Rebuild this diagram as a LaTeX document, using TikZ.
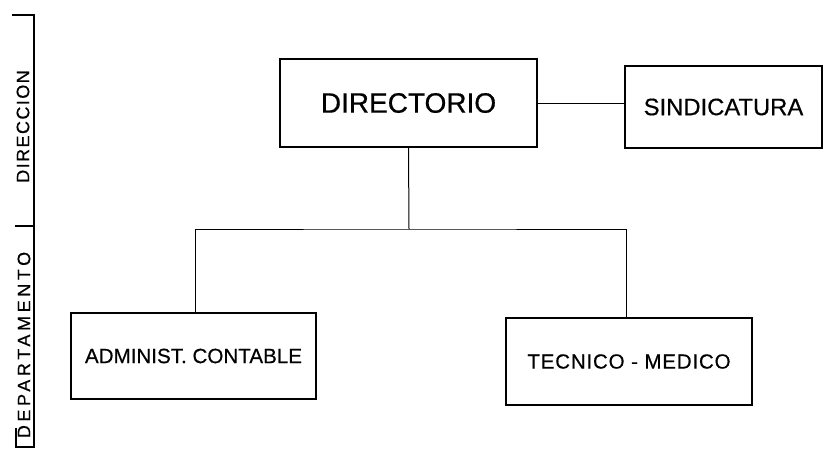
\documentclass[tikz,border=0pt]{standalone}
\usepackage{fontspec}
\setmainfont{Liberation Sans}
\begin{document}
\begin{tikzpicture}[x=1pt,y=-1pt,
  box/.style={draw,line width=1.5pt,inner sep=0pt,align=center},
  conn/.style={draw,line width=1pt},
  scale line/.style={draw,line width=1.2pt}]
\useasboundingbox (0,0) rectangle (824,450);
% boxes
\node[box,line width=2.2pt,minimum width=257pt,minimum height=88pt,font=\fontsize{28}{30}\selectfont\addfontfeature{FakeBold=0.6}] (dir) at (408.5,103) {DIRECTORIO};
\node[box,minimum width=197pt,minimum height=82pt,font=\fontsize{23.8}{26}\selectfont\addfontfeature{FakeBold=0.5}] (sin) at (723.5,107) {SINDICATURA};
\node[box,minimum width=245pt,minimum height=86pt,font=\fontsize{20.6}{22}\selectfont\addfontfeature{FakeBold=0.5}] (adm) at (193.5,356) {ADMINIST. CONTABLE};
\node[box,minimum width=246pt,minimum height=87pt,font=\fontsize{20.5}{22}\selectfont\addfontfeature{FakeBold=0.5}] (tec) at (629,361.5) {\addfontfeature{LetterSpace=4}TECNICO - MEDICO};
% connectors
\coordinate (bus) at (409,229);
\draw[conn] (dir.east) -- (dir.east -| sin.west);
\draw[conn] (dir.south) -- (bus);
\draw[conn] ([xshift=1.5pt]adm.north) |- (bus) -| ([xshift=-3pt]tec.north);
% left scale
\coordinate (s0) at (34,15);
\coordinate (s1) at (34,447);
\coordinate (t0) at (12,15);
\coordinate (tm) at (15,226);
\coordinate (sm) at (34,226);
\coordinate (b0) at (16,428);
\coordinate (b1) at (16,447);
\draw[scale line] (t0) -- (s0) -- (s1) -- (b1) -- (b0);
\draw[scale line] (tm) -- (sm);
\node[rotate=90,inner sep=0pt,font=\fontsize{18}{19}\selectfont\addfontfeature{FakeBold=0.4}] (lbl1) at (23,126.5) {\addfontfeature{LetterSpace=8}DIRECCION};
\node[rotate=90,inner sep=0pt,font=\fontsize{18}{19}\selectfont\addfontfeature{FakeBold=0.4}] (lbl2) at (24,345) {\addfontfeature{LetterSpace=20}DEPARTAMENTO};
\end{tikzpicture}
\end{document}
